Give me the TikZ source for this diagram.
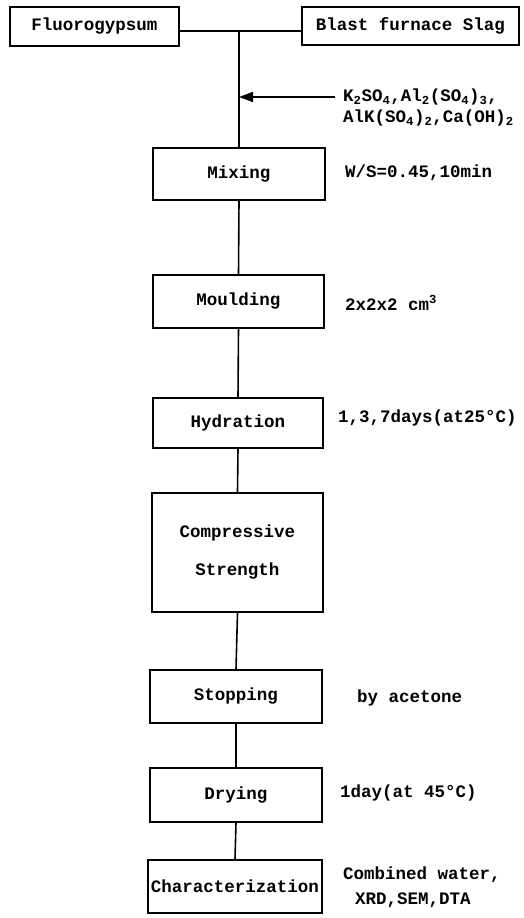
\documentclass[tikz,border=0pt]{standalone}
\usepackage{fontspec}
\setmainfont{Liberation Mono}
\usetikzlibrary{arrows.meta}
\tikzset{
  box/.style={draw, line width=1.6pt, minimum width=171pt, minimum height=52pt, inner sep=0pt, font=\fontsize{17.5}{20}\selectfont\bfseries, align=center},
  lbl/.style={anchor=west, inner sep=0pt, font=\fontsize{17.5}{20}\selectfont\bfseries, align=left},
  conn/.style={line width=1.6pt},
}
\begin{document}
\begin{tikzpicture}[x=1pt,y=-1pt]
\useasboundingbox (0,0) rectangle (523,918);
\node[box, minimum width=169pt, minimum height=39pt] (fluoro) at (94.5,26.5) {Fluorogypsum};
\node[box, minimum width=217pt, minimum height=38pt] (slag) at (410.5,26) {Blast furnace Slag};
\coordinate (j) at (239,31);
\node[box, minimum width=172pt] (mix) at (239,174) {Mixing};
\node[box, minimum height=53pt] (mould) at (238.5,301.5) {Moulding};
\node[box, minimum width=170pt, minimum height=50pt] (hyd) at (238,423) {Hydration};
\node[box, minimum height=119pt] (comp) at (237.5,552.5) {Compressive\\[18pt]Strength};
\node[box, minimum width=172pt, minimum height=53pt] (stop) at (236,696.5) {Stopping};
\node[box, minimum width=172pt, minimum height=54pt] (dry) at (236,795) {Drying};
\node[box, minimum width=174pt, minimum height=53pt] (char) at (235,886.5) {Characterization};
\coordinate (a0) at (335,97);
\coordinate (a1) at (239,97);
\node[lbl] (chem1) at (343,97) {K\textsubscript{2}SO\textsubscript{4},Al\textsubscript{2}(SO\textsubscript{4})\textsubscript{3},};
\node[lbl] (chem2) at (343,118) {AlK(SO\textsubscript{4})\textsubscript{2},Ca(OH)\textsubscript{2}};
\node[lbl] (lmix) at (345,173) {W/S=0.45,10min};
\node[lbl] (lmould) at (345,303) {2x2x2 cm\textsuperscript{3}};
\node[lbl] (lhyd) at (338,418) {1,3,7days(at25°C)};
\node[lbl] (lstop) at (357,698) {by acetone};
\node[lbl] (ldry) at (340,793) {1day(at 45°C)};
\node[lbl] (lchar1) at (343,875) {Combined water,};
\node[lbl] (lchar2) at (355,900) {XRD,SEM,DTA};
\draw[conn] (fluoro.east |- j) -- (slag.west |- j);
\draw[conn] (j) -- (mix.north);
\draw[conn, -{Triangle[length=14pt,width=10pt]}] (a0) -- (a1);
\draw[conn] (mix.south) -- (mould.north);
\draw[conn] (mould.south) -- (hyd.north);
\draw[conn] (hyd.south) -- (comp.north);
\draw[conn] (comp.south) -- (stop.north);
\draw[conn] (stop.south) -- (dry.north);
\draw[conn] (dry.south) -- (char.north);
\end{tikzpicture}
\end{document}
